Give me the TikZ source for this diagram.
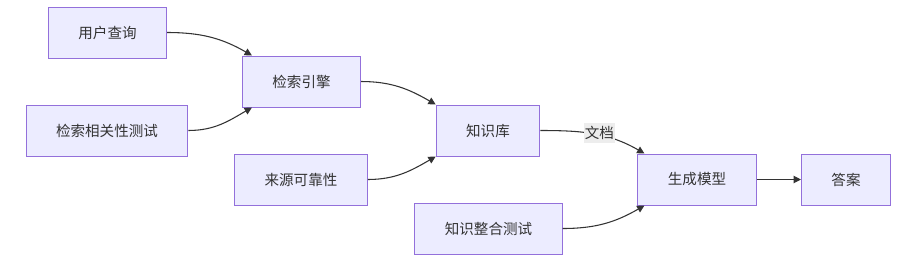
\documentclass[tikz,border=0pt]{standalone}
\usepackage{fontspec}
\setmainfont{Noto Sans CJK SC}
\usepackage{tikz}
\usetikzlibrary{arrows.meta}
\definecolor{nodefill}{RGB}{236,236,255}
\definecolor{nodeline}{RGB}{147,112,219}
\definecolor{ink}{RGB}{51,51,51}
\definecolor{labelbg}{RGB}{237,237,237}
\tikzset{
  nd/.style={draw=nodeline,fill=nodefill,text=ink,line width=0.75pt,
             font=\fontsize{10.9pt}{13pt}\selectfont,inner xsep=22.5pt,
             minimum height=38.25pt,align=center},
  flow/.style={-{Triangle[length=5.5pt,width=5.5pt]},line width=0.8pt,draw=ink},
  lbl/.style={fill=labelbg,text=ink,font=\fontsize{10.9pt}{13pt}\selectfont,
              inner xsep=0.5pt,inner ysep=2.5pt},
}

\begin{document}
\begin{tikzpicture}[x=0.75pt,y=0.75pt]
  \useasboundingbox (0,0) rectangle (916,-262);
  \node[nd] (query)  at (107.5,-32.5)  {用户查询};
  \node[nd] (relev)  at (107,-130.5)   {检索相关性测试};
  \node[nd] (engine) at (301.5,-81.5)  {检索引擎};
  \node[nd] (source) at (301,-179.5)   {来源可靠性};
  \node[nd] (kb)     at (488,-130.5)   {知识库};
  \node[nd] (integ)  at (488.5,-228.5) {知识整合测试};
  \node[nd] (gen)    at (697,-179.5)   {生成模型};
  \node[nd] (ans)    at (846,-179.5)   {答案};

  \draw[flow] (query.east) to[out=0,in=150] ([xshift=7.5pt]engine.north west);
  \draw[flow] (relev.east) to[out=0,in=-150] ([xshift=7.5pt]engine.south west);
  \draw[flow] (engine.east) to[out=0,in=150] (kb.north west);
  \draw[flow] (source.east) to[out=0,in=-150] (kb.south west);
  \draw[flow] (kb.east) to[out=0,in=150]
    node[lbl,pos=0.55,yshift=1.5pt] {文档} ([xshift=5.25pt]gen.north west);
  \draw[flow] (integ.east) to[out=0,in=-150] ([xshift=5.25pt]gen.south west);
  \draw[flow] (gen) -- (ans);
\end{tikzpicture}
\end{document}
